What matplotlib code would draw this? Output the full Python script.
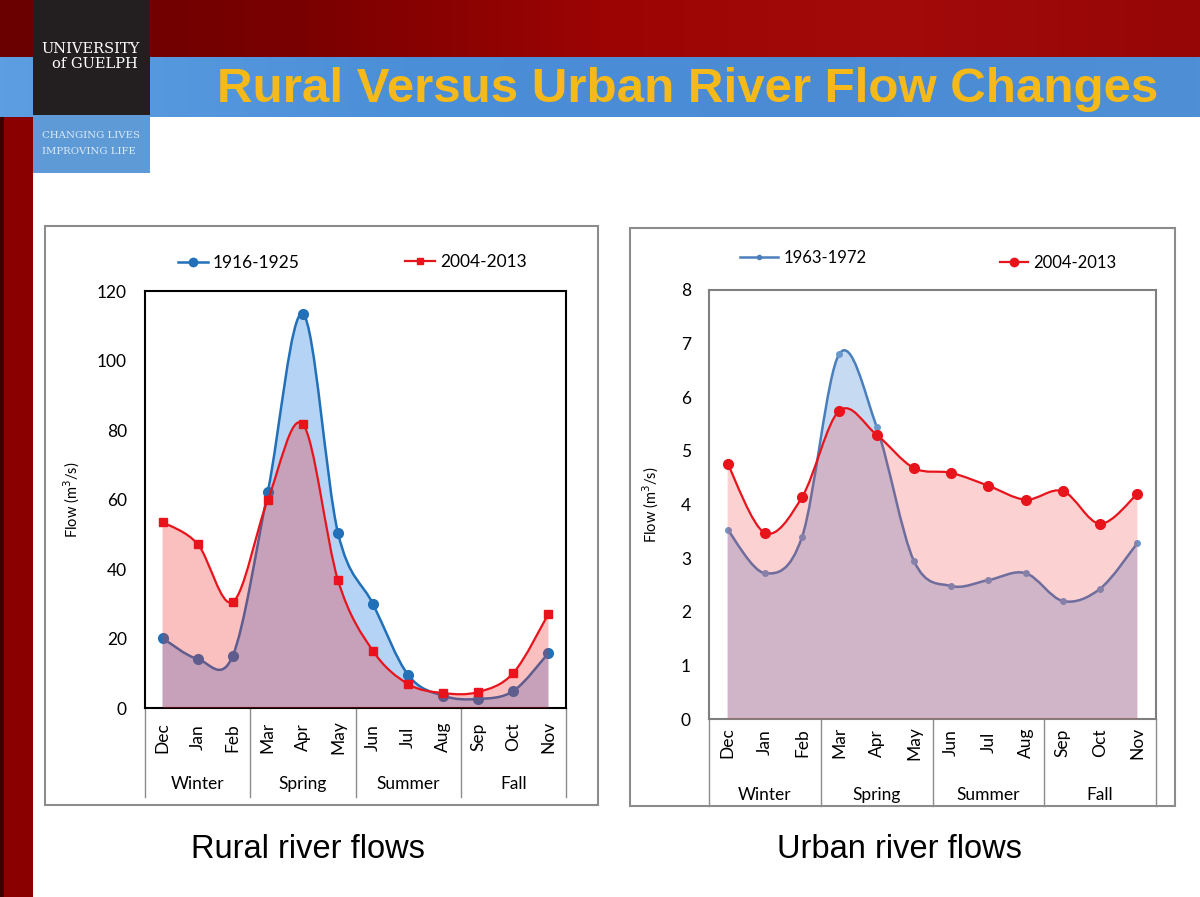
import numpy as np
import matplotlib
matplotlib.use('Agg')
import matplotlib.pyplot as plt
from matplotlib.path import Path
from matplotlib.patches import PathPatch, Rectangle
from matplotlib.lines import Line2D
import matplotlib.transforms as mtransforms
from matplotlib.colors import LinearSegmentedColormap

months = ['Dec', 'Jan', 'Feb', 'Mar', 'Apr', 'May', 'Jun', 'Jul', 'Aug', 'Sep', 'Oct', 'Nov']
seasons = ['Winter', 'Spring', 'Summer', 'Fall']

rural_old = [20.1, 14.1, 15.0, 62.2, 113.4, 50.4, 29.9, 9.5, 3.5, 2.6, 4.9, 15.8]
rural_new = [53.5, 47.2, 30.5, 59.9, 81.7, 36.8, 16.4, 6.9, 4.3, 4.6, 10.1, 27.1]
urban_old = [3.53, 2.72, 3.40, 6.81, 5.45, 2.95, 2.48, 2.59, 2.72, 2.20, 2.43, 3.28]
urban_new = [4.76, 3.47, 4.14, 5.75, 5.30, 4.68, 4.59, 4.35, 4.09, 4.25, 3.64, 4.20]

W, H = 1200, 897
FONT = 'Lato'


def smooth_path(y, closed=False):
    # excel-like smoothed line, bezier segments between the points
    x = np.arange(len(y), dtype=float)
    pts = np.column_stack([x, np.asarray(y, float)])
    ext = np.vstack([pts[0], pts, pts[-1]])
    verts = [tuple(pts[0])]
    codes = [Path.MOVETO]
    for i in range(len(pts) - 1):
        p0, p1, p2, p3 = ext[i], ext[i + 1], ext[i + 2], ext[i + 3]
        c1 = p1 + (p2 - p0) / 6.0
        c2 = p2 - (p3 - p1) / 6.0
        verts += [tuple(c1), tuple(c2), tuple(p2)]
        codes += [Path.CURVE4] * 3
    if closed:
        verts = [(x[0], 0.0)] + verts + [(x[-1], 0.0), (x[0], 0.0)]
        codes = [Path.MOVETO, Path.LINETO] + codes[1:] + [Path.LINETO, Path.CLOSEPOLY]
    return Path(verts, codes)


def px_axes(x0, y0, x1, y1):
    return fig.add_axes([x0 / W, 1 - y1 / H, (x1 - x0) / W, (y1 - y0) / H])


fig = plt.figure(figsize=(12, 8.97), dpi=100)

# ---- slide background ----
bg = fig.add_axes([0, 0, 1, 1])
bg.set_xlim(0, W)
bg.set_ylim(H, 0)
bg.axis('off')

red_cmap = LinearSegmentedColormap.from_list('r', ['#6a0000', '#7a0000', '#9c0404', '#a30a0a', '#960606'])
blue_cmap = LinearSegmentedColormap.from_list('b', ['#5d9ee2', '#4b8fd8', '#4a8bd4', '#4f8fd6'])
grad = np.linspace(0, 1, 256).reshape(1, -1)
bg.imshow(grad, cmap=red_cmap, extent=[0, W, 57, 0], aspect='auto')
bg.imshow(grad, cmap=blue_cmap, extent=[0, W, 117, 57], aspect='auto')
bg.add_patch(Rectangle((0, 117), 33, H - 117, color='#8a0000', lw=0))
bg.add_patch(Rectangle((0, 117), 4, H - 117, color='#3a0000', lw=0))
bg.add_patch(Rectangle((33, 0), 117, 115, color='#231f20', lw=0))
bg.add_patch(Rectangle((33, 115), 117, 58, color='#5e9bd6', lw=0))
bg.set_xlim(0, W)
bg.set_ylim(H, 0)

bg.text(91, 49, 'UNIVERSITY', color='white', family='DejaVu Serif', fontsize=10.5,
        ha='center', va='center')
bg.text(95, 64, 'of GUELPH', color='white', family='DejaVu Serif', fontsize=10.5,
        ha='center', va='center')
bg.text(42, 136, 'CHANGING LIVES', color='#dce9f7', family='DejaVu Serif', fontsize=7.3,
        ha='left', va='center')
bg.text(42, 151, 'IMPROVING LIFE', color='#dce9f7', family='DejaVu Serif', fontsize=7.3,
        ha='left', va='center')

bg.text(688, 90, 'Rural Versus Urban River Flow Changes', color='#f5b91a',
        family='Liberation Sans', fontweight='bold', fontsize=35.5, ha='center', va='center')

bg.add_patch(Rectangle((45, 226), 553, 579, facecolor='white', edgecolor='#8c8c8c', lw=1.5))
bg.add_patch(Rectangle((630, 228), 545, 578, facecolor='white', edgecolor='#8c8c8c', lw=1.5))

bg.text(308, 850, 'Rural river flows', family='Liberation Sans', fontsize=23.5,
        ha='center', va='center', color='black')
bg.text(899, 850, 'Urban river flows', family='Liberation Sans', fontsize=23.5,
        ha='center', va='center', color='black')

x = np.arange(len(months))

# ---- rural chart ----
ax1 = px_axes(145, 291, 566, 708)
ax1.add_patch(PathPatch(smooth_path(rural_old, True), facecolor='#b5d3f5', lw=0, zorder=1))
ax1.add_patch(PathPatch(smooth_path(rural_old), facecolor='none', edgecolor='#2170b8', lw=1.8, zorder=2))
ax1.plot(x, rural_old, 'o', color='#2170b8', ms=7, zorder=3)
ax1.add_patch(PathPatch(smooth_path(rural_new, True), facecolor='#f03030', alpha=0.3, lw=0, zorder=4))
ax1.add_patch(PathPatch(smooth_path(rural_new), facecolor='none', edgecolor='#e8141c', lw=1.6, zorder=5))
ax1.plot(x, rural_new, 's', color='#e8141c', ms=6, zorder=6)
ax1.set_ylim(0, 120)
ax1.set_yticks(np.arange(0, 121, 20))

# ---- urban chart ----
ax2 = px_axes(709, 290, 1156, 719)
ax2.add_patch(PathPatch(smooth_path(urban_old, True), facecolor='#c6dbf2', lw=0, zorder=1))
ax2.add_patch(PathPatch(smooth_path(urban_old), facecolor='none', edgecolor='#4a7fbc', lw=1.8, zorder=2))
ax2.plot(x, urban_old, 'o', color='#6a98cc', ms=4, zorder=3)
ax2.add_patch(PathPatch(smooth_path(urban_new, True), facecolor='#f03030', alpha=0.22, lw=0, zorder=4))
ax2.add_patch(PathPatch(smooth_path(urban_new), facecolor='none', edgecolor='#e8141c', lw=1.6, zorder=5))
ax2.plot(x, urban_new, 'o', color='#e8141c', ms=7, zorder=6)
ax2.set_ylim(0, 8)
ax2.set_yticks(np.arange(0, 9, 1))

for ax, edge, ypad, mpad, sep_y, season_y, lab_x in [
        (ax1, 'black', 13, 21, -0.213, -0.182, -0.15),
        (ax2, '#7f7f7f', 13, 17, -0.203, -0.177, -0.107)]:
    ax.set_xlim(-0.5, 11.5)
    ax.set_facecolor('none')
    for s in ax.spines.values():
        s.set_color(edge)
        s.set_linewidth(1.5)
    ax.set_xticks(x)
    ax.set_xticklabels(months, rotation=90, va='center', family=FONT, fontsize=12.5)
    ax.tick_params(axis='x', length=0, pad=mpad)
    ax.tick_params(axis='y', length=0, pad=ypad, labelsize=12.5)
    for t in ax.get_yticklabels():
        t.set_family(FONT)
    ax.set_ylabel('Flow (m$^3$/s)', family=FONT, fontsize=10.5)
    ax.yaxis.set_label_coords(lab_x, 0.5)
    trans = mtransforms.blended_transform_factory(ax.transData, ax.transAxes)
    for sx in [-0.5, 2.5, 5.5, 8.5, 11.5]:
        ax.plot([sx, sx], [0, sep_y], color='#8c8c8c', lw=1, transform=trans, clip_on=False)
    for k, name in enumerate(seasons):
        ax.text(3 * k + 1, season_y, name, transform=trans, ha='center', va='center',
                family=FONT, fontsize=12.5)

# ---- legends ----
def add_legend(ax, handle, label, px, py, hl, size):
    leg = ax.legend([handle], [label], loc='center left', frameon=False,
                    bbox_to_anchor=(px / W, 1 - py / H), bbox_transform=fig.transFigure,
                    borderpad=0, borderaxespad=0, handlelength=hl, handletextpad=0.3,
                    prop={'family': FONT, 'size': size})
    ax.legend_ = None
    ax.add_artist(leg)

add_legend(ax1, Line2D([], [], color='#2170b8', marker='o', ms=6, lw=1.8), '1916-1925', 178, 263, 1.7, 12.5)
add_legend(ax1, Line2D([], [], color='#e8141c', marker='s', ms=5, lw=1.6), '2004-2013', 405, 262, 1.7, 12.5)
add_legend(ax2, Line2D([], [], color='#4a7fbc', marker='o', ms=3, lw=1.8), '1963-1972', 740, 258, 2.3, 12)
add_legend(ax2, Line2D([], [], color='#e8141c', marker='o', ms=6, lw=1.6), '2004-2013', 1000, 263, 1.7, 12)

fig.savefig('out.png', dpi=100)
